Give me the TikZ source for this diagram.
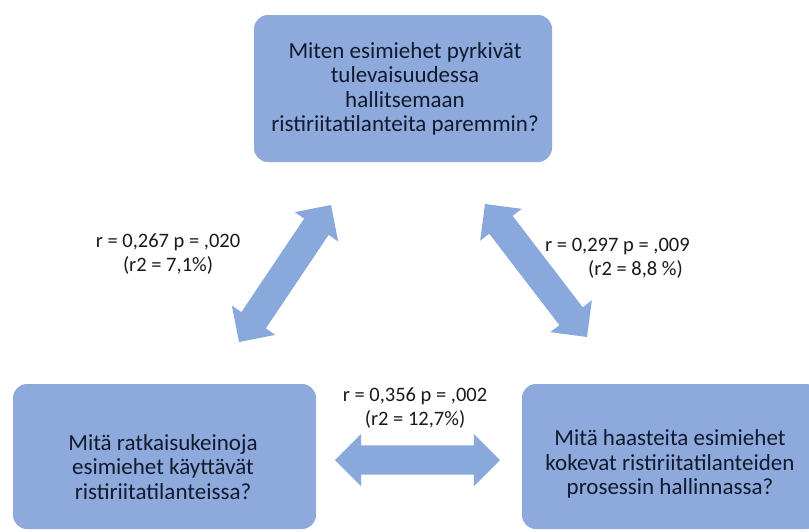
\documentclass[tikz,border=0pt]{standalone}
\usepackage{fontspec}
\setmainfont{Carlito}
\usetikzlibrary{calc,shapes.arrows}

\definecolor{boxblue}{HTML}{8EA9DB}
\definecolor{arrowblue}{HTML}{89A8DC}
\definecolor{boxink}{HTML}{111A2E}
\definecolor{labelink}{HTML}{1A1A1A}

\tikzset{
  question/.style={fill=boxblue, draw=none, rounded corners=14pt, inner sep=0pt},
  questiontext/.style={text=boxink, align=center, inner sep=0pt,
    font=\fontsize{23}{24.3}\selectfont},
  statlabel/.style={text=labelink, inner sep=0pt,
    font=\fontsize{20.5}{24}\selectfont},
  blockarrow/.style={double arrow, fill=arrowblue, draw=none, inner sep=0pt,
    inner ysep=14.5pt, double arrow head extend=11.5pt,
    double arrow tip angle=90, anchor=center}
}

% wide two-headed block arrow between two named coordinates
\newcommand\linkarrow[3]{%
  \path let \p1=($(#2)-(#1)$), \n1={veclen(\x1,\y1)}, \n2={atan2(\y1,\x1)} in
    node[blockarrow, minimum height=\n1, rotate=\n2] (#3) at ($(#1)!0.5!(#2)$) {};}

\begin{document}
\begin{tikzpicture}[x=1pt, y=-1pt]
  \clip (0,0) rectangle (809,531);
  \fill[white] (0,0) rectangle (809,531);

  % question boxes
  \node[question, minimum width=298pt, minimum height=147pt] (top) at (403,88.5) {};
  \node[question, minimum width=303pt, minimum height=145pt] (left) at (164.5,456.5) {};
  \node[question, minimum width=298pt, minimum height=145pt] (right) at (671,456.5) {};

  \node[questiontext] (toptext) at (405,89)
    {Miten esimiehet pyrkivät\\ tulevaisuudessa\\ hallitsemaan\\ ristiriitatilanteita paremmin?};
  \node[questiontext] (lefttext) at (163,467)
    {Mitä ratkaisukeinoja\\ esimiehet käyttävät\\ ristiriitatilanteissa?};
  \node[questiontext] (righttext) at (670,464)
    {Mitä haasteita esimiehet\\ kokevat ristiriitatilanteiden\\ prosessin hallinnassa?};

  % arrow end points
  \coordinate (la) at (239,342);
  \coordinate (lb) at (331,205);
  \coordinate (ra) at (485,204);
  \coordinate (rb) at (587,337);
  \coordinate (ba) at (335,460);
  \coordinate (bb) at (500,460);

  \linkarrow{la}{lb}{leftlink}
  \linkarrow{ra}{rb}{rightlink}
  \linkarrow{ba}{bb}{bottomlink}

  % correlation labels
  \node[statlabel, align=center] (leftstat) at (168,254)
    {r = 0,267 p = ,020\\ (r2 = 7,1\%)};
  \node[statlabel, align=left, anchor=west] (rightstat) at (545,258)
    {r = 0,297 p = ,009\\ \hspace*{43pt}(r2 = 8,8 \%)};
  \node[statlabel, align=center] (bottomstat) at (415,408)
    {r = 0,356 p = ,002\\ (r2 = 12,7\%)};
\end{tikzpicture}
\end{document}
